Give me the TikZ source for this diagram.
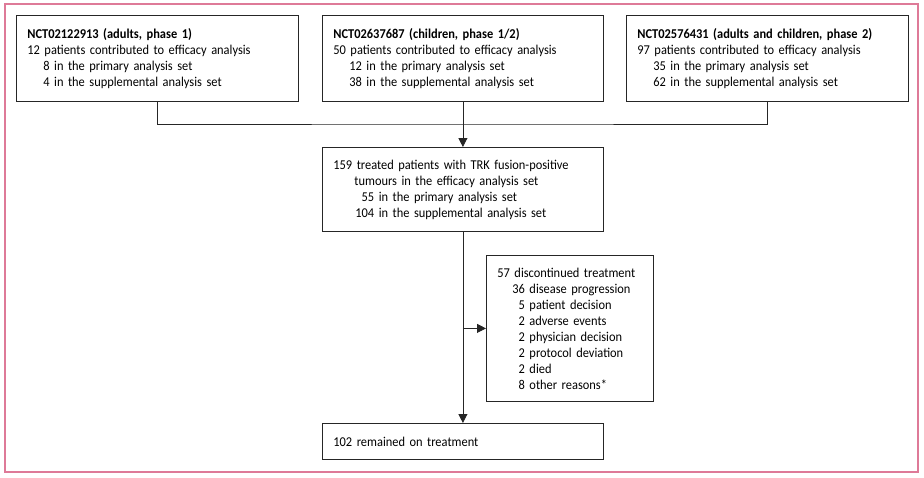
\documentclass[tikz,border=0pt]{standalone}
\usepackage{fontspec}
\setmainfont[FakeStretch=0.92,WordSpace=0.8]{Carlito}
\usetikzlibrary{arrows.meta}
\definecolor{framepink}{RGB}{222,122,152}

\begin{document}
\begin{tikzpicture}[x=1pt,y=-1pt,
  box/.style={draw=black!85,line width=0.8pt,anchor=north west,align=left,
    inner xsep=11pt,inner ysep=0pt,font=\fontsize{13.5}{16}\selectfont},
  arr/.style={draw=black!85,line width=0.8pt,-{Triangle[length=9pt,width=9pt]}}]
  \useasboundingbox (0,0) rectangle (924,477);
  \draw[framepink,line width=1.5pt] (5,4) rectangle (918,472);
  \node[box,text width=260pt,minimum height=86pt] (1) at (16,15)
    {\textbf{NCT02122913 (adults, phase 1)}\\
     12 patients contributed to efficacy analysis\\
     \hspace*{16pt}8 in the primary analysis set\\
     \hspace*{16pt}4 in the supplemental analysis set};
  \node[box,text width=259pt,minimum height=86pt] (2) at (322,15)
    {\textbf{NCT02637687 (children, phase 1/2)}\\
     50 patients contributed to efficacy analysis\\
     \hspace*{16pt}12 in the primary analysis set\\
     \hspace*{16pt}38 in the supplemental analysis set};
  \node[box,text width=260pt,minimum height=86pt] (3) at (626,15)
    {\textbf{NCT02576431 (adults and children, phase 2)}\\
     97 patients contributed to efficacy analysis\\
     \hspace*{16pt}35 in the primary analysis set\\
     \hspace*{16pt}62 in the supplemental analysis set};
  \node[box,text width=259pt,minimum height=84pt] (4) at (322,147)
    {159 treated patients with TRK fusion-positive\\
     \hspace*{21pt}tumours in the efficacy analysis set\\
     \hspace*{22pt}\phantom{1}55 in the primary analysis set\\
     \hspace*{22pt}104 in the supplemental analysis set};
  \node[box,text width=145pt,minimum height=146pt] (5) at (486,255)
    {57 discontinued treatment\\
     \hspace*{15pt}36 disease progression\\
     \hspace*{15pt}\phantom{3}5 patient decision\\
     \hspace*{15pt}\phantom{3}2 adverse events\\
     \hspace*{15pt}\phantom{3}2 physician decision\\
     \hspace*{15pt}\phantom{3}2 protocol deviation\\
     \hspace*{15pt}\phantom{3}2 died\\
     \hspace*{15pt}\phantom{3}8 other reasons*};
  \node[box,text width=259pt,minimum height=36pt] (6) at (322,423)
    {102 remained on treatment};
  \coordinate (join) at (2.south |- 0,124);
  \coordinate (split) at (4.south |- 5.west);
  \draw[draw=black!85,line width=0.8pt] (1.south) |- (join) -| (3.south);
  \draw[arr] (2.south) -- (4.north);
  \draw[arr] (4.south) -- (6.north);
  \draw[arr] (split) -- (5.west);
\end{tikzpicture}
\end{document}
